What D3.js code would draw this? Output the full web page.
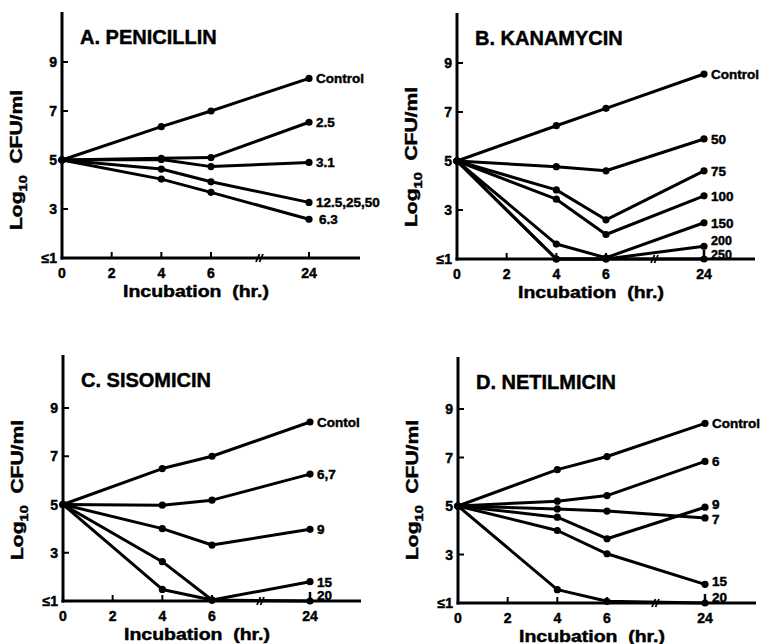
<!DOCTYPE html>
<html>
<head>
<meta charset="utf-8">
<script src="https://cdn.jsdelivr.net/npm/d3@7"></script>
<style>
  body { margin: 0; background: #fff; }
  text { font-family: "Liberation Sans", Arial, sans-serif; font-weight: bold; fill: #000;
         stroke: #000; stroke-width: 0.45px; }
</style>
</head>
<body>
<svg id="chart" width="766" height="644"></svg>
<script>
"use strict";

// Sampling times (hr) and axis ticks shared by all four panels.
const hours = [0, 4, 6, 24];
const xTicks = [0, 2, 4, 6, 24];
const yTicks = [1, 3, 5, 7, 9];
const yTickLabels = ["≤1", "3", "5", "7", "9"];

// Log10 CFU/ml; 1 means "at or below the detection limit".
const penicillinLabels = ["Control", "2.5", "3.1", "12.5,25,50", "6.3"];
const penicillinValues = [
    [5, 6.36, 7.00, 8.33],
    [5, 5.07, 5.10, 6.54],
    [5, 5.02, 4.73, 4.90],
    [5, 4.63, 4.11, 3.27],
    [5, 4.22, 3.68, 2.58]
];

const kanamycinLabels = ["Control", "50", "75", "100", "150", "200", "250"];
const kanamycinValues = [
    [5, 6.44, 7.15, 8.55],
    [5, 4.77, 4.60, 5.90],
    [5, 3.82, 2.60, 4.60],
    [5, 3.44, 2.00, 3.58],
    [5, 1.61, 1.05, 2.48],
    [5, 1.00, 1.00, 1.52],
    [5, 1.00, 1.00, 1.00]
];

const sisomicinLabels = ["Contol", "6,7", "9", "15", "20"];
const sisomicinValues = [
    [5, 6.49, 7.00, 8.42],
    [5, 4.97, 5.18, 6.26],
    [5, 4.00, 3.32, 3.97],
    [5, 2.63, 1.04, 1.80],
    [5, 1.48, 1.04, 1.00]
];

const netilmicinLabels = ["Control", "6", "7", "9", "15", "20"];
const netilmicinValues = [
    [5, 6.50, 7.04, 8.41],
    [5, 5.20, 5.43, 6.84],
    [5, 4.88, 4.79, 4.51],
    [5, 4.54, 3.65, 4.95],
    [5, 3.99, 3.03, 1.77],
    [5, 1.55, 1.07, 1.00]
];

// Panel placement: origin is the axis corner, h the pixel height of 1..9.
const panels = [
    {title: "A. PENICILLIN", labels: penicillinLabels, values: penicillinValues,
     ox: 62, oy: 258, h: 196, yTitleDy: -98, nudge: {"6.3": [3, 0]}},
    {title: "B. KANAMYCIN", labels: kanamycinLabels, values: kanamycinValues,
     ox: 457, oy: 259, h: 196, yTitleDy: -102, nudge: {"200": [0, -6], "250": [0, -4.5]}},
    {title: "C. SISOMICIN", labels: sisomicinLabels, values: sisomicinValues,
     ox: 63, oy: 601, h: 193, yTitleDy: -111, nudge: {"20": [0, -5.5]}},
    {title: "D. NETILMICIN", labels: netilmicinLabels, values: netilmicinValues,
     ox: 458, oy: 603, h: 194, yTitleDy: -113, nudge: {"9": [0, -3], "7": [0, 1], "15": [0, -3], "20": [0, -6.3]}}
];

const svg = d3.select("#chart");
svg.append("rect").attr("width", 766).attr("height", 644).attr("fill", "#fff");

panels.forEach(function(p) {
    let g = svg.append("g");

    // Time axis is broken between 6 and 24 hr, so use a piecewise scale.
    let x = d3.scaleLinear().domain([0, 6, 24]).range([p.ox, p.ox + 149, p.ox + 247]);
    let y = d3.scaleLinear().domain([1, 9]).range([p.oy, p.oy - p.h]);

    // Axis lines.
    g.append("line")
        .attr("x1", p.ox).attr("x2", p.ox)
        .attr("y1", p.oy + 1.5).attr("y2", p.oy - 246)
        .attr("stroke", "#000").attr("stroke-width", 3);
    g.append("line")
        .attr("x1", p.ox - 1.5).attr("x2", p.ox + 298)
        .attr("y1", p.oy).attr("y2", p.oy)
        .attr("stroke", "#000").attr("stroke-width", 3);

    // Inward tick marks.
    g.selectAll(".ytick").data(yTicks.slice(1)).enter().append("line")
        .attr("class", "ytick")
        .attr("x1", p.ox).attr("x2", p.ox + 6)
        .attr("y1", function(d) { return y(d); })
        .attr("y2", function(d) { return y(d); })
        .attr("stroke", "#000").attr("stroke-width", 2);
    g.selectAll(".xtick").data(xTicks.slice(1)).enter().append("line")
        .attr("class", "xtick")
        .attr("x1", function(d) { return x(d); })
        .attr("x2", function(d) { return x(d); })
        .attr("y1", p.oy).attr("y2", p.oy - 6)
        .attr("stroke", "#000").attr("stroke-width", 2);

    // Tick labels.
    g.selectAll(".ylab").data(yTicks).enter().append("text")
        .attr("class", "ylab")
        .attr("x", p.ox - 5)
        .attr("y", function(d) { return y(d); })
        .attr("dy", "0.36em")
        .attr("text-anchor", "end")
        .style("font-size", "14px")
        .text(function(d, i) { return yTickLabels[i]; });
    g.selectAll(".xlab").data(xTicks).enter().append("text")
        .attr("class", "xlab")
        .attr("x", function(d) { return x(d); })
        .attr("y", p.oy + 20)
        .attr("text-anchor", "middle")
        .style("font-size", "14px")
        .text(function(d) { return d; });

    // Axis break marks.
    let bx = x(6) + 48;
    [0, 1].forEach(function(k) {
        g.append("line")
            .attr("x1", bx - 3 + k * 3.5).attr("y1", p.oy + 4)
            .attr("x2", bx + 0.5 + k * 3.5).attr("y2", p.oy - 4)
            .attr("stroke", "#000").attr("stroke-width", 1.8);
    });

    // Axis titles.
    g.append("text")
        .attr("x", p.ox + 134).attr("y", p.oy + 39)
        .attr("text-anchor", "middle")
        .attr("textLength", 146).attr("lengthAdjust", "spacingAndGlyphs")
        .style("font-size", "16px")
        .text("Incubation\u00a0 (hr.)");
    let yt = g.append("text")
        .attr("transform", "translate(" + (p.ox - 40) + "," + (p.oy + p.yTitleDy) + ") rotate(-90)")
        .attr("text-anchor", "middle")
        .attr("textLength", 140).attr("lengthAdjust", "spacingAndGlyphs")
        .style("font-size", "16px");
    yt.append("tspan").text("Log");
    yt.append("tspan").attr("dy", 5).style("font-size", "11px").text("10");
    yt.append("tspan").attr("dy", -5).text("\u00a0 CFU/ml");

    // Panel title.
    g.append("text")
        .attr("x", p.ox + 18).attr("y", p.oy - 214)
        .style("font-size", "20px")
        .text(p.title);

    // Series lines, points and end labels.
    let line = d3.line()
        .x(function(d, i) { return x(hours[i]); })
        .y(function(d) { return y(d); });

    p.values.forEach(function(vals, si) {
        g.append("path")
            .attr("d", line(vals))
            .attr("fill", "none")
            .attr("stroke", "#000")
            .attr("stroke-width", 3)
            .attr("stroke-linejoin", "round");
        g.selectAll(".pt" + si).data(vals).enter().append("circle")
            .attr("class", "pt" + si)
            .attr("cx", function(d, i) { return x(hours[i]); })
            .attr("cy", function(d) { return y(d); })
            .attr("r", 3.6)
            .attr("fill", "#000");

        let last = vals[vals.length - 1];
        // Values at the detection limit at 24 hr get a small arrow mark.
        if (last <= 1) {
            g.append("line")
                .attr("x1", x(24)).attr("x2", x(24))
                .attr("y1", y(last)).attr("y2", y(last) - 9)
                .attr("stroke", "#000").attr("stroke-width", 2.5);
        }

        let lab = p.labels[si];
        let nd = p.nudge[lab] || [0, 0];
        g.append("text")
            .attr("x", x(24) + 7 + nd[0])
            .attr("y", y(last) + nd[1])
            .attr("dy", "0.36em")
            .style("font-size", lab === "200" || lab === "250" ? "12.5px" : "13.5px")
            .text(lab);
    });
});
</script>
</body>
</html>
